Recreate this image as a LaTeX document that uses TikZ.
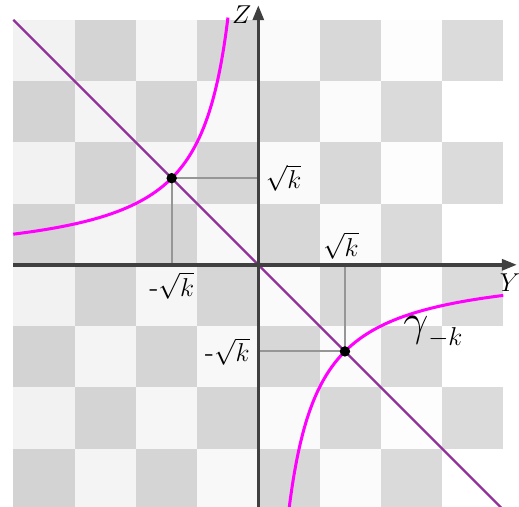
\documentclass[tikz,border=0pt]{standalone}
\usetikzlibrary{arrows.meta}
\definecolor{curvemag}{RGB}{255,0,255}
\definecolor{diagpurple}{RGB}{145,50,155}
\definecolor{axisgray}{RGB}{64,64,64}
\definecolor{markgray}{RGB}{150,150,150}
\begin{document}
\begin{tikzpicture}[
  axisline/.style={draw=axisgray, line width=1.6pt, -{Triangle[length=7pt,width=5pt]}},
  markline/.style={draw=markgray, line width=0.9pt},
  hyper/.style={draw=curvemag, line width=1.4pt},
  diagline/.style={draw=diagpurple, line width=1pt},
  dotpt/.style={circle, fill=black, inner sep=0pt, minimum size=0.17cm},
  lab/.style={inner sep=1pt, font=\fontsize{13}{15}\selectfont}
]
\useasboundingbox (-4.217,-3.938) rectangle (4.256,4.323);
\clip (-4.217,-3.938) rectangle (4.256,4.323);
% checkerboard
\foreach \i in {-4,...,3}{
  \foreach \j in {-4,...,3}{
    \pgfmathtruncatemacro\pp{mod(\i+\j+8,2)}
    \pgfmathsetmacro\lv{\pp*(0.95+0.05*(\i+4)/7)+(1-\pp)*(0.827+0.03*(\i+4)/7)}
    \definecolor{cellc}{gray}{\lv}
    \fill[cellc] (\i,\j) rectangle ++(1,1);
  }
}
% coordinates
\coordinate (O) at (0,0);
\coordinate (P1) at (-1.4142,1.4142);
\coordinate (P2) at (1.4142,-1.4142);
\coordinate (Yl) at (-4,0);
\coordinate (Yr) at (4.224,0);
\coordinate (Zb) at (0,-4.1);
\coordinate (Zt) at (0,4.24);
\coordinate (Dtl) at (-4,4);
\coordinate (Dbr) at (4,-4);
% marker lines
\draw[markline] (P1) -- (P1 -| O);
\draw[markline] (P1) -- (P1 |- O);
\draw[markline] (P2) -- (P2 -| O);
\draw[markline] (P2) -- (P2 |- O);
% diagonal
\draw[diagline] (Dtl) -- (Dbr);
% hyperbola
\draw[hyper] plot[domain=-4:-0.495, samples=120, smooth] (\x,{-2/\x});
\draw[hyper] plot[domain=0.495:4, samples=120, smooth] (\x,{-2/\x});
% axes
\draw[axisline] (Yl) -- (Yr);
\draw[axisline] (Zb) -- (Zt);
% points
\node[dotpt] (D1) at (P1) {};
\node[dotpt] (D2) at (P2) {};
\node[dotpt, minimum size=0.09cm, fill=axisgray] (D0) at (O) {};
% labels
\node[lab] (lZ) at (-0.27,4.08) {$Z$};
\node[lab] (lY) at (4.11,-0.29) {$Y$};
\node[lab, anchor=west] (l1) at (0.08,1.414) {$\sqrt{k}$};
\node[lab, anchor=north] (l2) at (-1.414,-0.08) {-$\sqrt{k}$};
\node[lab] (l3) at (1.35,0.31) {$\sqrt{k}$};
\node[lab, anchor=east] (l4) at (-0.1,-1.414) {-$\sqrt{k}$};
\node[lab] (lg) at (2.85,-1.10) {{\fontsize{22}{22}\selectfont$\gamma$}\raisebox{-4.5pt}{$-k$}};
\end{tikzpicture}
\end{document}
